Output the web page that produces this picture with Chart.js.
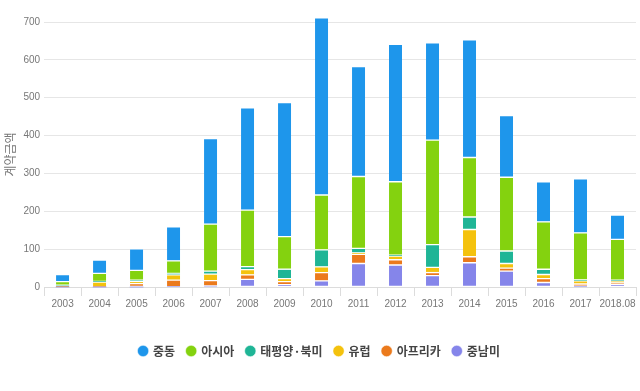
<!DOCTYPE html>
<html>
<head>
<meta charset="utf-8">
<script src="https://cdn.jsdelivr.net/npm/chart.js@4"></script>
<style>
html,body{margin:0;padding:0;background:#fff;}
#wrap{width:640px;height:391px;position:relative;}
</style>
</head>
<body>
<div id="wrap"><canvas id="c" width="640" height="391"></canvas></div>
<script>
const years = ['2003','2004','2005','2006','2007','2008','2009','2010','2011','2012','2013','2014','2015','2016','2017','2018.08'];
const middleEast   = [19,35,57,90,226,270,354,468,290,363,257,311,163,106,143,64];
const asia         = [9,21,26,33,124,149,86,145,190,194,276,157,195,125,124,108];
const pacificNA    = [2,2,3,4,8,8,25,45,12,2,60,33,33,14,3,2];
const europe       = [2,12,6,14,17,14,8,15,4,10,14,72,12,11,8,5];
const africa       = [1,1,9,17,14,12,8,22,24,14,8,16,8,10,6,5];
const latinAmerica = [0,0,0,1,3,20,6,16,62,58,30,64,42,12,2,6];
const yTicks = [0,100,200,300,400,500,600,700];

const names = ['중동','아시아','태평양·북미','유럽','아프리카','중남미'];
const colors = ['#1e96eb','#84d20f','#1fb596','#f4c20d','#eb7a1c','#8585ea'];
const series = [middleEast, asia, pacificNA, europe, africa, latinAmerica];

const datasets = [];
for (let i = series.length - 1; i >= 0; i--) {
  datasets.push({
    label: names[i],
    data: series[i],
    backgroundColor: colors[i],
    borderColor: '#ffffff',
    borderWidth: {top: 1, bottom: 1, left: 0, right: 0},
    borderSkipped: false,
    barThickness: 13,
    clip: false
  });
}

const tickFont = {family: "'Liberation Sans Narrow','Liberation Sans',sans-serif", size: 10};

new Chart(document.getElementById('c'), {
  type: 'bar',
  data: {labels: years, datasets: datasets},
  options: {
    responsive: false,
    animation: false,
    devicePixelRatio: 1,
    layout: {padding: {top: 22, right: 4, bottom: 24, left: 3}},
    plugins: {
      tooltip: {enabled: false},
      legend: {
        position: 'bottom',
        reverse: true,
        title: {display: true, text: ' ', font: {size: 10}, padding: {top: 4, bottom: 5}},
        labels: {
          usePointStyle: true,
          pointStyle: 'circle',
          boxWidth: 8,
          boxHeight: 8,
          padding: 12,
          color: '#444',
          font: {family: "'Noto Sans CJK KR','Noto Sans',sans-serif", size: 12, weight: 'bold'}
        }
      }
    },
    scales: {
      x: {
        stacked: true,
        grid: {display: true, drawOnChartArea: false, drawTicks: true, tickLength: 9, color: '#dcdcdc', offset: true},
        border: {display: true, color: '#dcdcdc'},
        ticks: {color: '#777', font: tickFont, padding: 2, maxRotation: 0, autoSkip: false}
      },
      y: {
        stacked: true,
        min: 0,
        max: 700,
        afterBuildTicks: (axis) => { axis.ticks = yTicks.map(v => ({value: v})); },
        grid: {color: '#e6e6e6', drawTicks: false},
        border: {display: false},
        ticks: {color: '#777', font: tickFont, padding: 4},
        title: {display: true, text: '계약금액', color: '#777', font: {family: "'Noto Sans CJK KR',sans-serif", size: 12}, padding: {top: 0, bottom: 2}}
      }
    }
  }
});
</script>
</body>
</html>
